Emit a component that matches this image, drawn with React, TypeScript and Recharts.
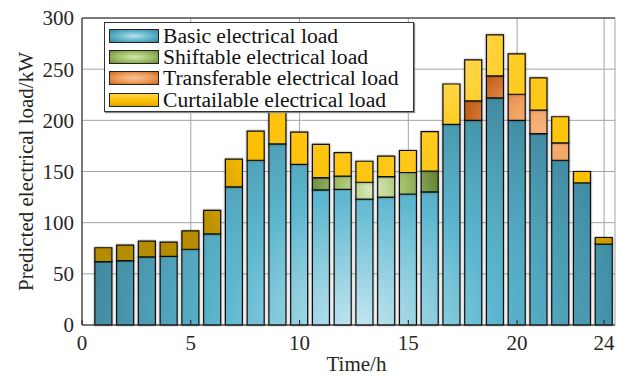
// Stacked bar chart of predicted hourly electrical load by load type
import { BarChart, Bar, XAxis, YAxis, CartesianGrid, ReferenceLine } from "recharts";

const hours = [1, 2, 3, 4, 5, 6, 7, 8, 9, 10, 11, 12, 13, 14, 15, 16, 17, 18, 19, 20, 21, 22, 23, 24];
const basicLoad = [62, 63, 66.5, 67, 74, 89, 135, 161, 177, 157, 132, 132.5, 123, 125, 128, 130, 196, 200, 222, 200, 187, 161, 139, 79];
const shiftableLoad = [0, 0, 0, 0, 0, 0, 0, 0, 0, 0, 12, 13, 16.5, 20, 21, 20.5, 0, 0, 0, 0, 0, 0, 0, 0];
const transferableLoad = [0, 0, 0, 0, 0, 0, 0, 0, 0, 0, 0, 0, 0, 0, 0, 0, 0, 19, 21.5, 25.5, 23, 17, 0, 0];
const curtailableLoad = [13.5, 15, 15.5, 14, 18, 23, 27, 28.5, 36, 31.5, 32.5, 23, 20.5, 20, 21.5, 38.5, 39.5, 40, 40, 39.5, 31.5, 25.5, 11, 6.5];
const seriesNames = ["Basic electrical load", "Shiftable electrical load", "Transferable electrical load", "Curtailable electrical load"];
const xTicks = [0, 5, 10, 15, 20, 24];
const yTicks = [0, 50, 100, 150, 200, 250, 300];

const data = hours.map((h, i) => ({
  hour: h,
  basic: basicLoad[i],
  shiftable: shiftableLoad[i],
  transferable: transferableLoad[i],
  curtailable: curtailableLoad[i],
}));

const FONT = "Liberation Serif, Times New Roman, DejaVu Serif, serif";
const TEXT = "#262626";

// legend swatches, roughly matching the shaded bar fills
const SWATCHES = [
  "radial-gradient(ellipse at center, #b9e0ec 0%, #5db3ca 55%, #3b8499 100%)",
  "radial-gradient(ellipse at center, #d5e6b3 0%, #9dbd62 55%, #6c8a3c 100%)",
  "radial-gradient(ellipse at center, #f8c29a 0%, #ec9a58 55%, #c8671f 100%)",
  "linear-gradient(#ffd447, #fcc000 60%, #e0a800)",
];

function LegendBox() {
  return (
    <div
      style={{
        position: "absolute",
        left: 104,
        top: 22,
        boxSizing: "border-box",
        width: 310,
        height: 90,
        border: "1px solid #333",
        background: "#fff",
        boxShadow: "1px 1px 1px #888",
        padding: "2px 0 0 4px",
        fontFamily: FONT,
        fontSize: 21.6,
        color: "#111",
      }}
    >
      {seriesNames.map((name, i) => (
        <div key={name} style={{ display: "flex", alignItems: "center", height: 21.3 }}>
          <span
            style={{
              display: "inline-block",
              boxSizing: "border-box",
              width: 50,
              height: 14,
              border: "1px solid #222",
              background: SWATCHES[i],
              marginRight: 4,
              flexShrink: 0,
            }}
          />
          <span style={{ display: "inline-block", height: 20, lineHeight: "20px", whiteSpace: "nowrap" }}>{name}</span>
        </div>
      ))}
    </div>
  );
}

export default function App() {
  const barProps = { stackId: "load", stroke: "#111", strokeWidth: 1.2, filter: "url(#barShadow)", isAnimationActive: false };
  return (
    <div style={{ position: "absolute", left: 0, top: 0, width: 618, height: 376, background: "#fff" }}>
      <BarChart
        width={618}
        height={376}
        data={data}
        barSize={17}
        margin={{ top: 18, right: 3, left: 22, bottom: 11 }}
        style={{ fontFamily: FONT }}
      >
        <defs>
          <filter id="barShadow" x="-30%" y="-10%" width="160%" height="120%">
            <feDropShadow dx="0" dy="0" stdDeviation="0.9" floodColor="#000" floodOpacity="0.45" />
          </filter>
          <radialGradient id="gBasic" gradientUnits="userSpaceOnUse" cx={360} cy={330} r={300}>
            <stop offset="0" stopColor="#c6e7f1" />
            <stop offset="0.45" stopColor="#5db7cf" />
            <stop offset="1" stopColor="#3a8196" />
          </radialGradient>
          <radialGradient id="gShift" gradientUnits="userSpaceOnUse" cx={372} cy={190} r={65}>
            <stop offset="0" stopColor="#dcebc0" />
            <stop offset="0.5" stopColor="#a2c16a" />
            <stop offset="1" stopColor="#67863a" />
          </radialGradient>
          <radialGradient id="gTrans" gradientUnits="userSpaceOnUse" cx={545} cy={135} r={80}>
            <stop offset="0" stopColor="#f8b47e" />
            <stop offset="0.5" stopColor="#f0a060" />
            <stop offset="1" stopColor="#c4621c" />
          </radialGradient>
          <radialGradient id="gCurt" gradientUnits="userSpaceOnUse" cx={430} cy={40} r={300}>
            <stop offset="0" stopColor="#ffe070" />
            <stop offset="0.3" stopColor="#ffcc22" />
            <stop offset="0.72" stopColor="#fcbe00" />
            <stop offset="0.86" stopColor="#d4a200" />
            <stop offset="1" stopColor="#b58c00" />
          </radialGradient>
        </defs>
        <CartesianGrid stroke="#a4a4a4" strokeWidth={1} />
        <Bar dataKey="basic" name={seriesNames[0]} fill="url(#gBasic)" {...barProps} />
        <Bar dataKey="shiftable" name={seriesNames[1]} fill="url(#gShift)" {...barProps} />
        <Bar dataKey="transferable" name={seriesNames[2]} fill="url(#gTrans)" {...barProps} />
        <Bar dataKey="curtailable" name={seriesNames[3]} fill="url(#gCurt)" {...barProps} />
        <ReferenceLine y={300} stroke="#222" strokeWidth={1} />
        <XAxis
          type="number"
          dataKey="hour"
          domain={[0, 24.5]}
          ticks={xTicks}
          allowDataOverflow
          interval={0}
          stroke="#222"
          tickSize={-5}
          tickMargin={15}
          tick={{ fill: TEXT, fontFamily: FONT, fontSize: 21 }}
          height={40}
          label={{ value: "Time/h", position: "center", dy: 19, dx: 8, fill: TEXT, fontFamily: FONT, fontSize: 21 }}
        />
        <YAxis
          type="number"
          domain={[0, 300]}
          ticks={yTicks}
          interval={0}
          stroke="#222"
          tickLine={false}
          tickSize={0}
          tickMargin={8}
          width={60}
          tick={{ fill: TEXT, fontFamily: FONT, fontSize: 21 }}
          label={{ value: "Predicted electrical load/kW", angle: -90, position: "center", dx: -26, fill: TEXT, fontFamily: FONT, fontSize: 21 }}
        />
      </BarChart>
      <LegendBox />
    </div>
  );
}
